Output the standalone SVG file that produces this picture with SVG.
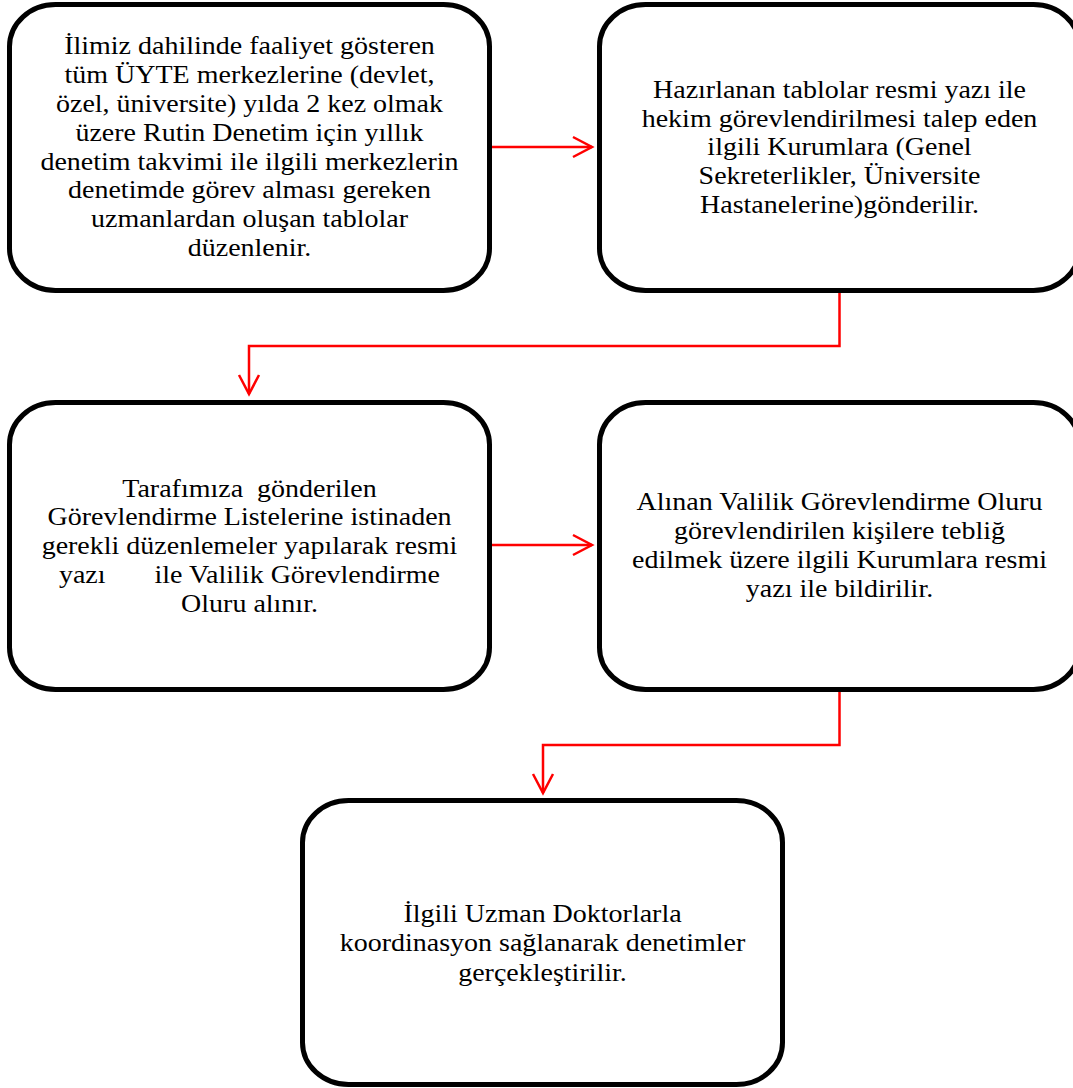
<svg xmlns="http://www.w3.org/2000/svg" width="1073" height="1088" viewBox="0 0 1073 1088">
  <style>
    .box { fill: #ffffff; stroke: #000000; stroke-width: 5; }
    .lbl { font-family: 'Liberation Serif', 'Times New Roman', serif; font-size: 25px; fill: #000000; text-anchor: middle; }
    .link { fill: none; stroke: #ff0000; stroke-width: 2.5; }
  </style>
  <defs>
    <marker id="arrow" markerUnits="userSpaceOnUse" markerWidth="24" markerHeight="26" refX="20" refY="11" orient="auto" overflow="visible">
      <path d="M1 1 L20 11 L1 21" fill="none" stroke="#ff0000" stroke-width="2.5"/>
    </marker>
  </defs>
  <rect width="1073" height="1088" fill="#ffffff"/>

  <g id="connectors">
    <path class="link" d="M492 147 H592" marker-end="url(#arrow)"/>
    <path class="link" d="M839.5 293 V346 H249 V394" marker-end="url(#arrow)"/>
    <path class="link" d="M492 545 H592" marker-end="url(#arrow)"/>
    <path class="link" d="M839.5 692 V745 H543 V793" marker-end="url(#arrow)"/>
  </g>

  <g id="node-plan">
    <rect class="box" x="9.5" y="4.5" width="480" height="286" rx="46" ry="42"/>
    <text class="lbl" font-family="Liberation Serif, serif" transform="translate(249.5 0) scale(1.12 1)"><tspan x="0" y="54">İlimiz dahilinde faaliyet gösteren</tspan><tspan x="0" y="82.9">tüm ÜYTE merkezlerine (devlet,</tspan><tspan x="0" y="111.8">özel, üniversite) yılda 2 kez olmak</tspan><tspan x="0" y="140.7">üzere Rutin Denetim için yıllık</tspan><tspan x="0" y="169.6">denetim takvimi ile ilgili merkezlerin</tspan><tspan x="0" y="198.5">denetimde görev alması gereken</tspan><tspan x="0" y="227.4">uzmanlardan oluşan tablolar</tspan><tspan x="0" y="256.3">düzenlenir.</tspan></text>
  </g>

  <g id="node-send">
    <rect class="box" x="599.5" y="4.5" width="480" height="286" rx="46" ry="42"/>
    <text class="lbl" font-family="Liberation Serif, serif" transform="translate(839.5 0) scale(1.12 1)"><tspan x="0" y="97.7">Hazırlanan tablolar resmi yazı ile</tspan><tspan x="0" y="126.6">hekim görevlendirilmesi talep eden</tspan><tspan x="0" y="155.5">ilgili Kurumlara (Genel</tspan><tspan x="0" y="184.4">Sekreterlikler, Üniversite</tspan><tspan x="0" y="213.3">Hastanelerine)gönderilir.</tspan></text>
  </g>

  <g id="node-approval">
    <rect class="box" x="9.5" y="402.5" width="480" height="287" rx="46" ry="42"/>
    <text class="lbl" font-family="Liberation Serif, serif" transform="translate(249.5 0) scale(1.12 1)"><tspan x="0" y="496.7">Tarafımıza &#160;gönderilen</tspan><tspan x="0" y="525.5">Görevlendirme Listelerine istinaden</tspan><tspan x="0" y="554.2">gerekli düzenlemeler yapılarak resmi</tspan><tspan x="0" y="583">yazı &#160;&#160;&#160;&#160;&#160;&#160;ile Valilik Görevlendirme</tspan><tspan x="0" y="611.7">Oluru alınır.</tspan></text>
  </g>

  <g id="node-notify">
    <rect class="box" x="599.5" y="402.5" width="480" height="287" rx="46" ry="42"/>
    <text class="lbl" font-family="Liberation Serif, serif" transform="translate(839.5 0) scale(1.12 1)"><tspan x="0" y="510">Alınan Valilik Görevlendirme Oluru</tspan><tspan x="0" y="538.9">görevlendirilen kişilere tebliğ</tspan><tspan x="0" y="567.8">edilmek üzere ilgili Kurumlara resmi</tspan><tspan x="0" y="596.7">yazı ile bildirilir.</tspan></text>
  </g>

  <g id="node-inspect">
    <rect class="box" x="302.5" y="800.5" width="480" height="284" rx="46" ry="42"/>
    <text class="lbl" font-family="Liberation Serif, serif" transform="translate(542.5 0) scale(1.12 1)"><tspan x="0" y="922">İlgili Uzman Doktorlarla</tspan><tspan x="0" y="951.5">koordinasyon sağlanarak denetimler</tspan><tspan x="0" y="981">gerçekleştirilir.</tspan></text>
  </g>
</svg>
